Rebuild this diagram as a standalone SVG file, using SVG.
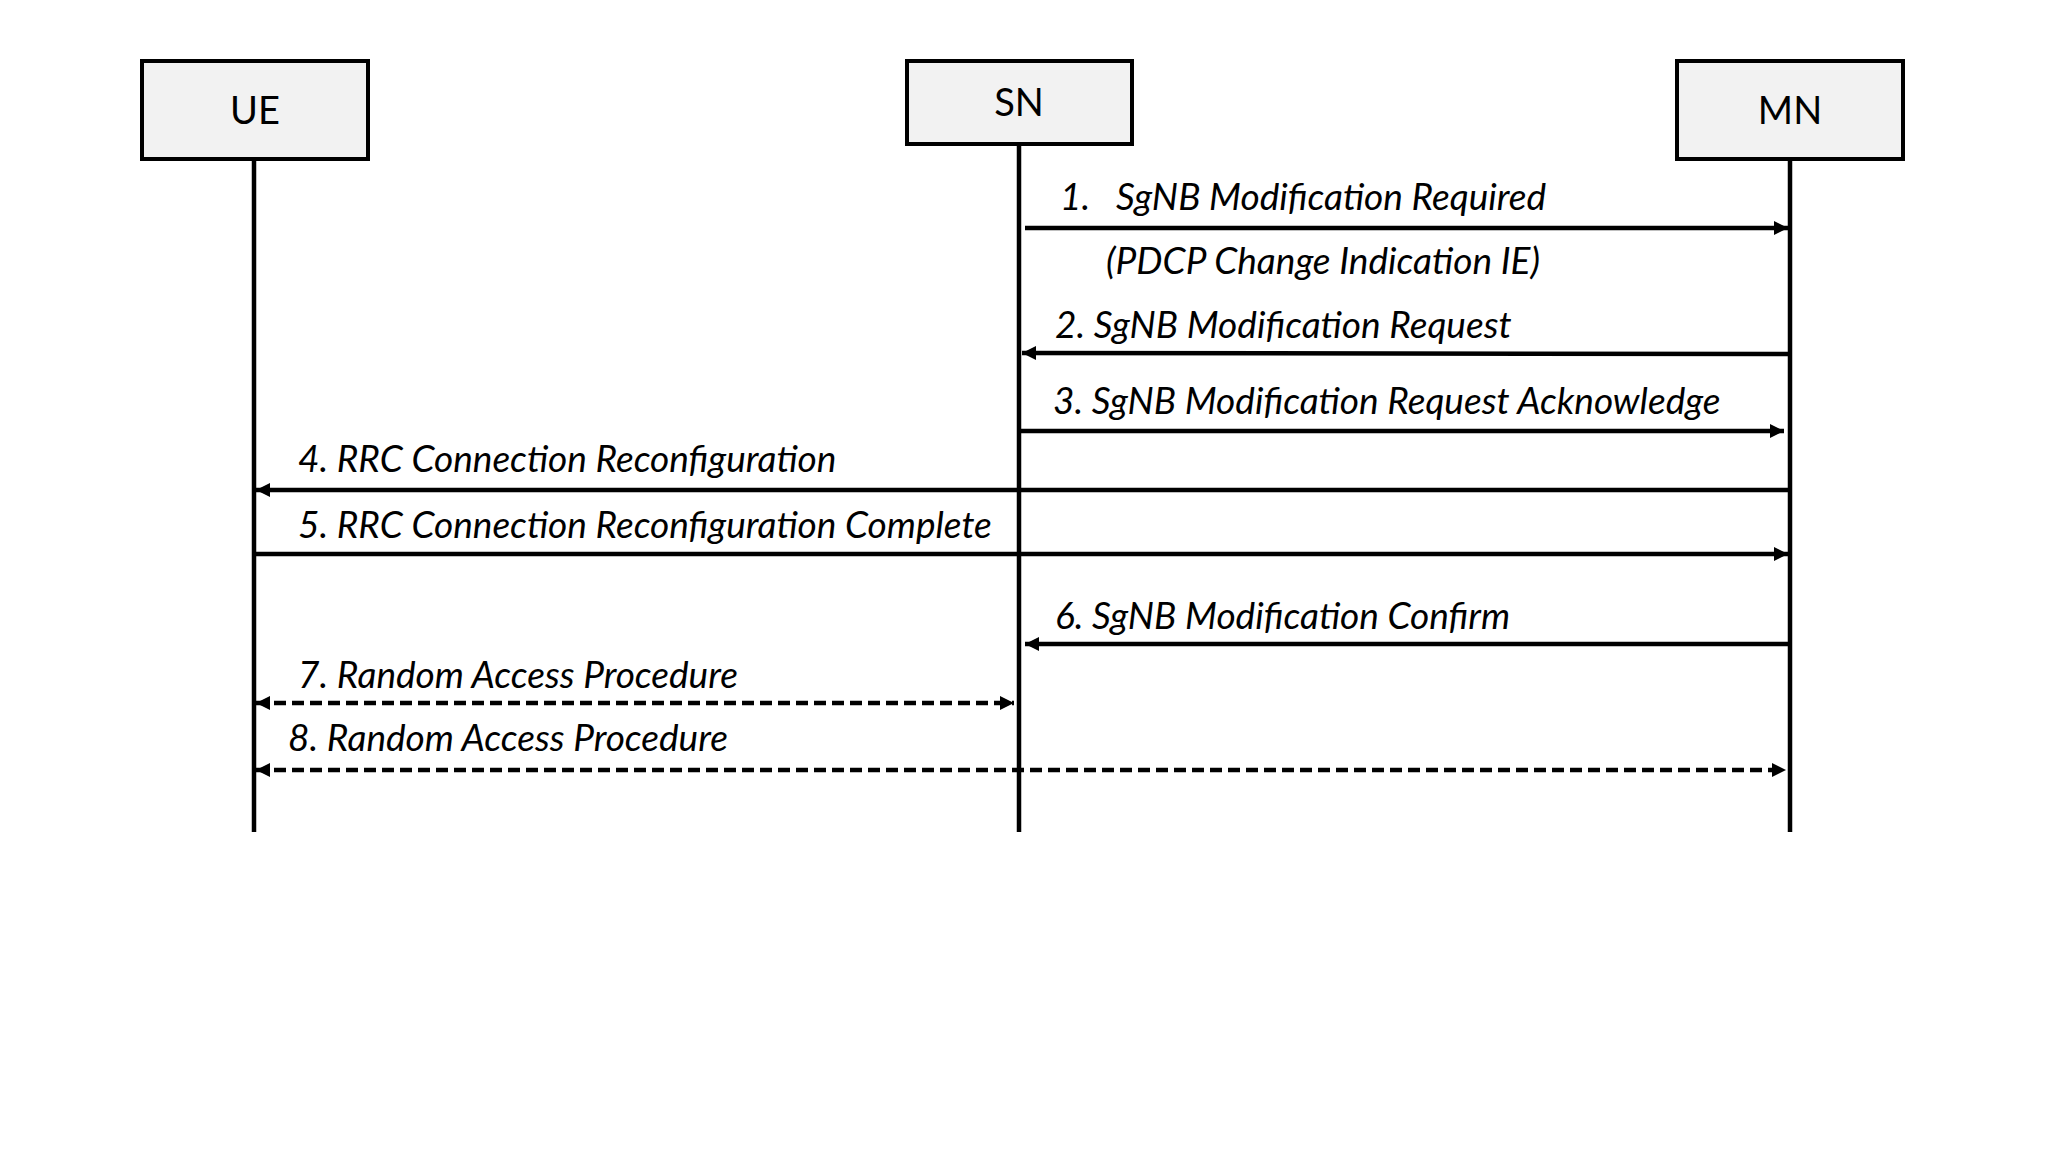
<svg xmlns="http://www.w3.org/2000/svg" width="2048" height="1153" viewBox="0 0 2048 1153">
<defs>
<style>
.box{fill:#f2f2f2;stroke:#000;stroke-width:4}
.life{stroke:#000;stroke-width:4.5;fill:none}
.msg{stroke:#000;stroke-width:4.5;fill:none}
.dash{stroke-dasharray:12 6}
.nl{font-family:Lato,"Liberation Sans",sans-serif;font-size:38px;fill:#000;text-anchor:middle}
.ml{font-family:Lato,"Liberation Sans",sans-serif;font-style:italic;font-size:37px;fill:#000}
</style>
<marker id="ah" viewBox="0 0 10 10" refX="10" refY="5" markerWidth="14" markerHeight="15" markerUnits="userSpaceOnUse" orient="auto-start-reverse">
<path d="M0,0 L10,5 L0,10 z" fill="#000"/>
</marker>
</defs>
<rect width="2048" height="1153" fill="#fff"/>
<g id="UE">
<rect class="box" x="142" y="61" width="226" height="98"/>
<text class="nl" x="255" y="124">UE</text>
<line class="life" x1="254" y1="159" x2="254" y2="832"/>
</g>
<g id="SN">
<rect class="box" x="907" y="61" width="225" height="83"/>
<text class="nl" x="1019" y="116">SN</text>
<line class="life" x1="1019" y1="144" x2="1019" y2="832"/>
</g>
<g id="MN">
<rect class="box" x="1677" y="61" width="226" height="98"/>
<text class="nl" x="1790" y="124">MN</text>
<line class="life" x1="1790" y1="159" x2="1790" y2="832"/>
</g>
<g id="connectors">
<line class="msg" x1="1025" y1="228" x2="1788" y2="228" marker-end="url(#ah)"/>
<line class="msg" x1="1788" y1="354" x2="1022" y2="353" marker-end="url(#ah)"/>
<line class="msg" x1="1021" y1="431" x2="1784" y2="431" marker-end="url(#ah)"/>
<line class="msg" x1="1788" y1="490" x2="256" y2="490" marker-end="url(#ah)"/>
<line class="msg" x1="256" y1="554" x2="1788" y2="554" marker-end="url(#ah)"/>
<line class="msg" x1="1788" y1="644" x2="1025" y2="644" marker-end="url(#ah)"/>
<line class="msg dash" x1="256" y1="703" x2="1014" y2="703" marker-start="url(#ah)" marker-end="url(#ah)"/>
<line class="msg dash" x1="256" y1="770" x2="1786" y2="770" marker-start="url(#ah)" marker-end="url(#ah)"/>
</g>
<g id="labels">
<text class="ml" x="1060" y="210" xml:space="preserve">1.   SgNB Modification Required</text>
<text class="ml" x="1106" y="274">(PDCP Change Indication IE)</text>
<text class="ml" x="1055" y="338">2. SgNB Modification Request</text>
<text class="ml" x="1053" y="414">3. SgNB Modification Request Acknowledge</text>
<text class="ml" x="298" y="472">4. RRC Connection Reconfiguration</text>
<text class="ml" x="298" y="538">5. RRC Connection Reconfiguration Complete</text>
<text class="ml" x="1055" y="629">6. SgNB Modification Confirm</text>
<text class="ml" x="298" y="688">7. Random Access Procedure</text>
<text class="ml" x="288" y="751">8. Random Access Procedure</text>
</g>
</svg>
